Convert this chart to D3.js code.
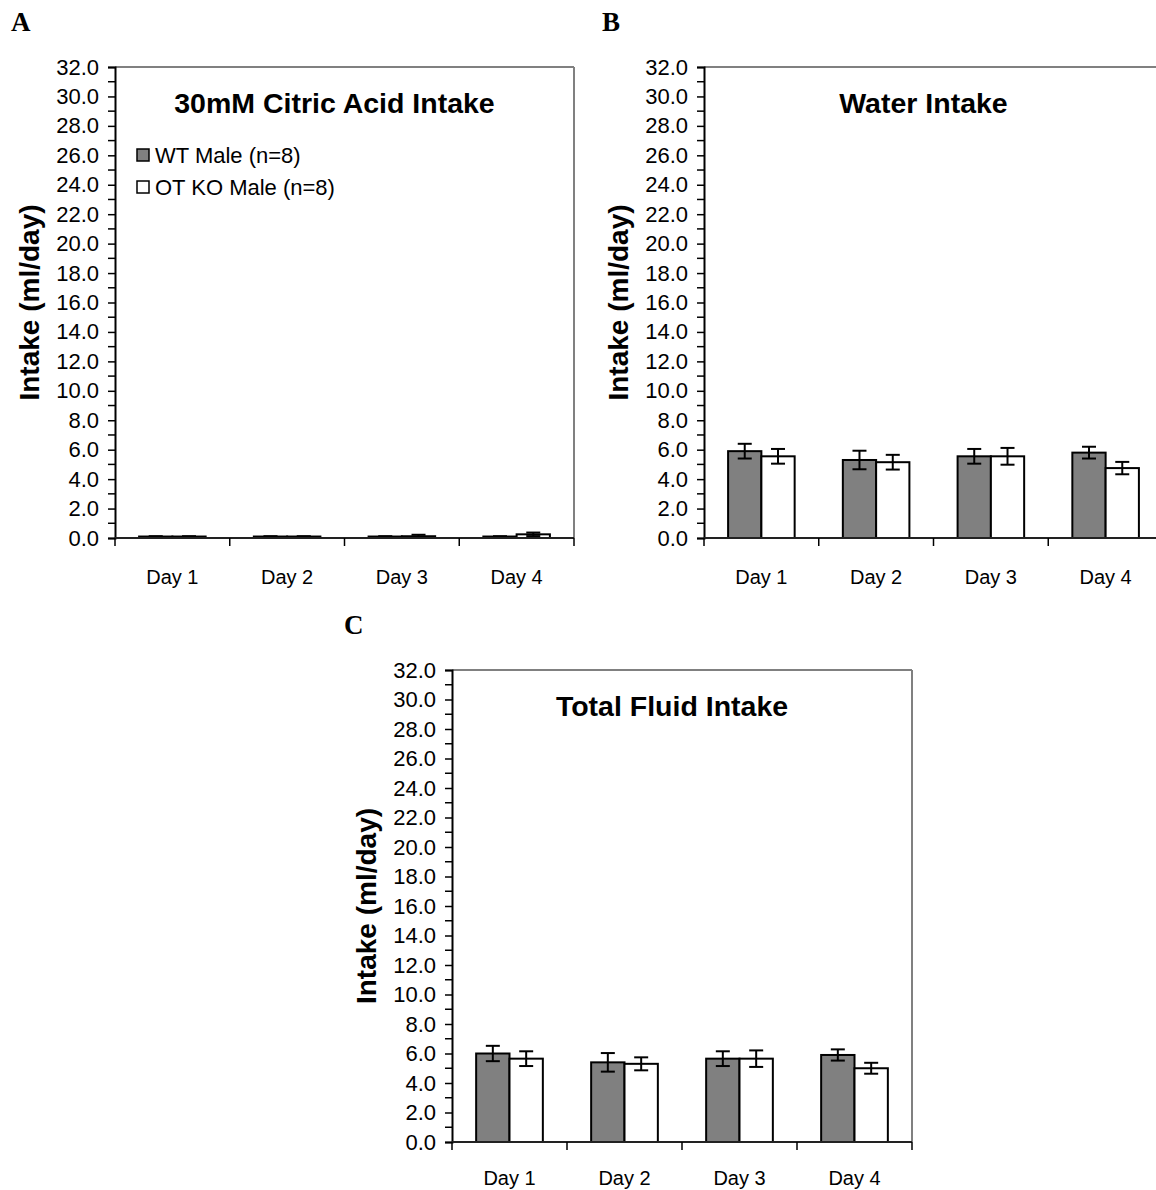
<!DOCTYPE html>
<html><head><meta charset="utf-8">
<script src="https://cdn.jsdelivr.net/npm/d3@7"></script>
<style>
body{margin:0;background:#fff;}
text{font-family:"Liberation Sans",Arial,sans-serif;fill:#000;}
text.letter{font-family:"Liberation Serif","Times New Roman",serif;}
</style></head>
<body>
<svg id="chart" width="1156" height="1190"></svg>
<script>
const days = ["Day 1","Day 2","Day 3","Day 4"];
const seriesNames = ["WT Male (n=8)","OT KO Male (n=8)"];
const yTickValues = [0,2,4,6,8,10,12,14,16,18,20,22,24,26,28,30,32];

const citricWT = [0.10,0.10,0.10,0.10];
const citricWTErr = [0.02,0.02,0.02,0.02];
const citricKO = [0.10,0.10,0.12,0.25];
const citricKOErr = [0.02,0.02,0.10,0.12];

const waterWT = [5.90,5.30,5.55,5.80];
const waterWTErr = [0.50,0.63,0.50,0.40];
const waterKO = [5.55,5.15,5.55,4.75];
const waterKOErr = [0.50,0.50,0.57,0.42];

const totalWT = [6.00,5.40,5.65,5.90];
const totalWTErr = [0.52,0.63,0.50,0.38];
const totalKO = [5.65,5.30,5.65,5.00];
const totalKOErr = [0.50,0.44,0.56,0.37];

const svg = d3.select("#chart");
const colors = ["#808080","#ffffff"];

function panel(cfg){
  const g = svg.append("g");
  const y = d3.scaleLinear().domain([0,32]).range([cfg.bottom, cfg.top]);
  const x = d3.scaleBand().domain(days).range([cfg.left, cfg.right]).paddingInner(0.42).paddingOuter(0.21);
  const xs = d3.scaleBand().domain([0,1]).range([0, x.bandwidth()]);

  g.append("line").attr("x1",cfg.left).attr("x2",cfg.right).attr("y1",cfg.top).attr("y2",cfg.top)
    .attr("stroke","#808080").attr("stroke-width",2);
  g.append("line").attr("x1",cfg.right).attr("x2",cfg.right).attr("y1",cfg.top).attr("y2",cfg.bottom)
    .attr("stroke","#808080").attr("stroke-width",2);

  const data = [];
  days.forEach((d,i)=>{
    data.push({day:d, s:0, v:cfg.wt[i], e:cfg.wtErr[i]});
    data.push({day:d, s:1, v:cfg.ko[i], e:cfg.koErr[i]});
  });
  g.selectAll("rect.bar").data(data).join("rect").attr("class","bar")
    .attr("x", d=>x(d.day)+xs(d.s))
    .attr("width", xs.bandwidth())
    .attr("y", d=>y(d.v))
    .attr("height", d=>y(0)-y(d.v))
    .attr("fill", d=>colors[d.s])
    .attr("stroke","#000").attr("stroke-width",2);

  const eb = g.selectAll("g.err").data(data).join("g").attr("class","err")
    .attr("transform", d=>`translate(${x(d.day)+xs(d.s)+xs.bandwidth()/2},0)`);
  eb.append("line").attr("y1",d=>y(d.v+d.e)).attr("y2",d=>y(d.v-d.e)).attr("stroke","#000").attr("stroke-width",2);
  eb.append("line").attr("x1",-7).attr("x2",7).attr("y1",d=>y(d.v+d.e)).attr("y2",d=>y(d.v+d.e)).attr("stroke","#000").attr("stroke-width",2);
  eb.append("line").attr("x1",-7).attr("x2",7).attr("y1",d=>y(d.v-d.e)).attr("y2",d=>y(d.v-d.e)).attr("stroke","#000").attr("stroke-width",2);

  const yAxis = d3.axisLeft(y).tickValues(yTickValues).tickFormat(d3.format(".1f")).tickSize(7).tickPadding(9);
  const ya = g.append("g").attr("transform",`translate(${cfg.left},0)`).call(yAxis);
  ya.select(".domain").attr("stroke","#000").attr("stroke-width",2);
  ya.selectAll(".tick line").attr("stroke","#000").attr("stroke-width",1.5);
  ya.selectAll(".tick text").attr("font-size",22).attr("font-family",null).attr("fill","#000");
  const minor = d3.range(1,32,2);
  g.append("g").selectAll("line").data(minor).join("line")
    .attr("x1",cfg.left-7).attr("x2",cfg.left).attr("y1",d=>y(d)).attr("y2",d=>y(d))
    .attr("stroke","#000").attr("stroke-width",1.5);

  g.append("line").attr("x1",cfg.left).attr("x2",cfg.right).attr("y1",cfg.bottom).attr("y2",cfg.bottom)
    .attr("stroke","#222").attr("stroke-width",2);
  const bStep = (cfg.right-cfg.left)/days.length;
  g.append("g").selectAll("line").data(d3.range(days.length+1)).join("line")
    .attr("x1",i=>cfg.left+i*bStep).attr("x2",i=>cfg.left+i*bStep)
    .attr("y1",cfg.bottom).attr("y2",cfg.bottom+8).attr("stroke","#000").attr("stroke-width",1.5);
  g.append("g").selectAll("text").data(days).join("text")
    .attr("x",d=>x(d)+x.bandwidth()/2).attr("y",cfg.bottom+cfg.dayOffset)
    .attr("text-anchor","middle").attr("font-size",20).text(d=>d);

  g.append("text").attr("x",(cfg.left+cfg.right)/2-10).attr("y",cfg.top+46)
    .attr("text-anchor","middle").attr("font-size",28.5).attr("font-weight","bold").text(cfg.title);

  g.append("text").attr("transform",`translate(${cfg.left-76},${(cfg.top+cfg.bottom)/2}) rotate(-90)`)
    .attr("text-anchor","middle").attr("font-size",28).attr("font-weight","bold").text("Intake (ml/day)");

  svg.append("text").attr("class","letter").attr("x",cfg.letterX).attr("y",cfg.letterY)
    .attr("font-weight","bold").attr("font-size",27).text(cfg.letter);

  if(cfg.legend){
    const lg = g.append("g");
    seriesNames.forEach((n,i)=>{
      lg.append("rect").attr("x",cfg.left+22).attr("y",cfg.top+82+i*32).attr("width",12).attr("height",12)
        .attr("fill",colors[i]).attr("stroke","#000").attr("stroke-width",1.5);
      lg.append("text").attr("x",cfg.left+40).attr("y",cfg.top+96+i*32).attr("font-size",22).text(n);
    });
  }
}

panel({left:115,right:574,top:67,bottom:538,title:"30mM Citric Acid Intake",wt:citricWT,wtErr:citricWTErr,ko:citricKO,koErr:citricKOErr,letter:"A",letterX:11,letterY:31,legend:true,dayOffset:46});
panel({left:704,right:1163,top:67,bottom:538,title:"Water Intake",wt:waterWT,wtErr:waterWTErr,ko:waterKO,koErr:waterKOErr,letter:"B",letterX:602,letterY:31,legend:false,dayOffset:46});
panel({left:452,right:912,top:670,bottom:1142,title:"Total Fluid Intake",wt:totalWT,wtErr:totalWTErr,ko:totalKO,koErr:totalKOErr,letter:"C",letterX:344,letterY:634,legend:false,dayOffset:43});
</script>
</body></html>
